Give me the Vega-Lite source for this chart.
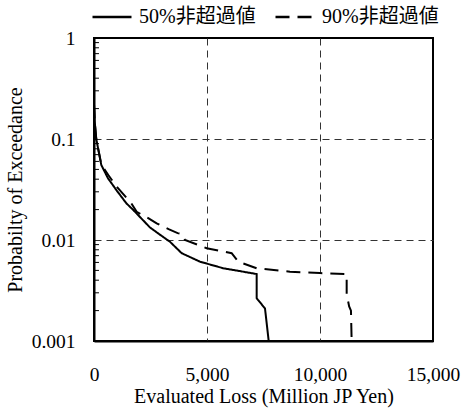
{
  "$schema": "https://vega.github.io/schema/vega-lite/v6.json",
  "width": 339,
  "height": 303,
  "autosize": {"type": "none"},
  "padding": {"left": 94, "top": 38, "right": 28, "bottom": 69},
  "background": "white",
  "config": {"view": {"stroke": "black", "strokeWidth": 2}, "font": "'Liberation Serif', serif"},
  "layer": [
    {
      "data": {
        "values": [
          {"series": "50%非超過値", "idx": 1, "loss": 0, "prob": 0.22},
          {"series": "50%非超過値", "idx": 2, "loss": 30, "prob": 0.15},
          {"series": "50%非超過値", "idx": 3, "loss": 100, "prob": 0.1},
          {"series": "50%非超過値", "idx": 4, "loss": 323, "prob": 0.0553},
          {"series": "50%非超過値", "idx": 5, "loss": 620, "prob": 0.0408},
          {"series": "50%非超過値", "idx": 6, "loss": 1000, "prob": 0.031},
          {"series": "50%非超過値", "idx": 7, "loss": 1430, "prob": 0.0231},
          {"series": "50%非超過値", "idx": 8, "loss": 1740, "prob": 0.0198},
          {"series": "50%非超過値", "idx": 9, "loss": 2100, "prob": 0.0163},
          {"series": "50%非超過値", "idx": 10, "loss": 2478, "prob": 0.0133},
          {"series": "50%非超過値", "idx": 11, "loss": 2800, "prob": 0.0118},
          {"series": "50%非超過値", "idx": 12, "loss": 3142, "prob": 0.0104},
          {"series": "50%非超過値", "idx": 13, "loss": 3363, "prob": 0.0096},
          {"series": "50%非超過値", "idx": 14, "loss": 3880, "prob": 0.0074},
          {"series": "50%非超過値", "idx": 15, "loss": 4300, "prob": 0.0067},
          {"series": "50%非超過値", "idx": 16, "loss": 4690, "prob": 0.0061},
          {"series": "50%非超過値", "idx": 17, "loss": 5723, "prob": 0.00525},
          {"series": "50%非超過値", "idx": 18, "loss": 6500, "prob": 0.0049},
          {"series": "50%非超過値", "idx": 19, "loss": 7198, "prob": 0.0046},
          {"series": "50%非超過値", "idx": 20, "loss": 7198, "prob": 0.00265},
          {"series": "50%非超過値", "idx": 21, "loss": 7566, "prob": 0.0021},
          {"series": "50%非超過値", "idx": 22, "loss": 7730, "prob": 0.001},
          {"series": "90%非超過値", "idx": 1, "loss": 0, "prob": 0.22},
          {"series": "90%非超過値", "idx": 2, "loss": 30, "prob": 0.15},
          {"series": "90%非超過値", "idx": 3, "loss": 100, "prob": 0.1},
          {"series": "90%非超過値", "idx": 4, "loss": 323, "prob": 0.056},
          {"series": "90%非超過値", "idx": 5, "loss": 633, "prob": 0.044},
          {"series": "90%非超過値", "idx": 6, "loss": 1003, "prob": 0.0337},
          {"series": "90%非超過値", "idx": 7, "loss": 1650, "prob": 0.0231},
          {"series": "90%非超過値", "idx": 8, "loss": 1888, "prob": 0.019},
          {"series": "90%非超過値", "idx": 9, "loss": 2400, "prob": 0.0165},
          {"series": "90%非超過値", "idx": 10, "loss": 2773, "prob": 0.0146},
          {"series": "90%非超過値", "idx": 11, "loss": 3300, "prob": 0.0128},
          {"series": "90%非超過値", "idx": 12, "loss": 3700, "prob": 0.0117},
          {"series": "90%非超過値", "idx": 13, "loss": 3880, "prob": 0.0115},
          {"series": "90%非超過値", "idx": 14, "loss": 4027, "prob": 0.01},
          {"series": "90%非超過値", "idx": 15, "loss": 4985, "prob": 0.0083},
          {"series": "90%非超過値", "idx": 16, "loss": 6091, "prob": 0.0074},
          {"series": "90%非超過値", "idx": 17, "loss": 6386, "prob": 0.0061},
          {"series": "90%非超過値", "idx": 18, "loss": 7198, "prob": 0.00525},
          {"series": "90%非超過値", "idx": 19, "loss": 8673, "prob": 0.00485},
          {"series": "90%非超過値", "idx": 20, "loss": 10000, "prob": 0.0047},
          {"series": "90%非超過値", "idx": 21, "loss": 11180, "prob": 0.0046},
          {"series": "90%非超過値", "idx": 22, "loss": 11180, "prob": 0.0029},
          {"series": "90%非超過値", "idx": 23, "loss": 11290, "prob": 0.0022},
          {"series": "90%非超過値", "idx": 24, "loss": 11370, "prob": 0.002},
          {"series": "90%非超過値", "idx": 25, "loss": 11400, "prob": 0.001}
        ]
      },
      "mark": {"type": "line", "color": "black", "strokeWidth": 2},
      "encoding": {
        "x": {
          "field": "loss",
          "type": "quantitative",
          "scale": {"domain": [0, 15000], "nice": false, "zero": false},
          "axis": {
            "title": "Evaluated Loss (Million JP Yen)",
            "values": [0, 5000, 10000, 15000],
            "format": ",.0f",
            "ticks": false,
            "grid": true,
            "gridColor": "#333",
            "gridWidth": 1,
            "gridDash": [7, 5],
            "gridOpacity": {"condition": {"test": "datum.value==5000||datum.value==10000", "value": 1}, "value": 0},
            "domainColor": "black",
            "domainWidth": 2,
            "labelFont": "'Liberation Serif', serif",
            "labelFontSize": 19.5,
            "labelFontWeight": "normal",
            "labelColor": "black",
            "labelPadding": 24,
            "labelFlush": false,
            "labelOverlap": false,
            "titleFont": "'Liberation Serif', serif",
            "titleFontSize": 20,
            "titleFontWeight": "normal",
            "titleColor": "black",
            "titlePadding": 3
          }
        },
        "y": {
          "field": "prob",
          "type": "quantitative",
          "scale": {"type": "log", "domain": [0.001, 1], "nice": false},
          "axis": {
            "title": "Probabilty of Exceedance",
            "values": [0.001, 0.01, 0.1, 1],
            "labelExpr": "datum.value==1?'1':datum.value==0.1?'0.1':datum.value==0.01?'0.01':'0.001'",
            "ticks": false,
            "grid": true,
            "gridColor": "#333",
            "gridWidth": 1,
            "gridDash": [7, 5],
            "gridOpacity": {"condition": {"test": "datum.value==0.1||datum.value==0.01", "value": 1}, "value": 0},
            "domainColor": "black",
            "domainWidth": 2,
            "labelFont": "'Liberation Serif', serif",
            "labelFontSize": 19.5,
            "labelFontWeight": "normal",
            "labelColor": "black",
            "labelPadding": 19,
            "labelFlush": false,
            "labelOverlap": false,
            "titleFont": "'Liberation Serif', serif",
            "titleFontSize": 20,
            "titleFontWeight": "normal",
            "titleColor": "black",
            "titlePadding": 6
          }
        },
        "strokeDash": {
          "field": "series",
          "type": "nominal",
          "scale": {"domain": ["50%非超過値", "90%非超過値"], "range": [[1, 0], [14, 8]]},
          "legend": {
            "title": null,
            "orient": "none",
            "legendX": -3,
            "legendY": -42,
            "direction": "horizontal",
            "columns": 2,
            "columnPadding": 14,
            "symbolType": "stroke",
            "symbolSize": 1521,
            "symbolStrokeWidth": 2.5,
            "symbolStrokeColor": "black",
            "labelFont": "'Liberation Serif', 'Noto Sans CJK JP', serif",
            "labelFontSize": 20,
            "labelColor": "black",
            "labelOffset": 6,
            "padding": 0
          }
        },
        "order": {"field": "idx", "type": "quantitative"}
      }
    },
    {
      "data": {
        "values": [
          {"tick": 0.002}, {"tick": 0.003}, {"tick": 0.004}, {"tick": 0.005}, {"tick": 0.006}, {"tick": 0.007}, {"tick": 0.008}, {"tick": 0.009},
          {"tick": 0.02}, {"tick": 0.03}, {"tick": 0.04}, {"tick": 0.05}, {"tick": 0.06}, {"tick": 0.07}, {"tick": 0.08}, {"tick": 0.09},
          {"tick": 0.2}, {"tick": 0.3}, {"tick": 0.4}, {"tick": 0.5}, {"tick": 0.6}, {"tick": 0.7}, {"tick": 0.8}, {"tick": 0.9}
        ]
      },
      "mark": {"type": "rule", "stroke": "black", "strokeWidth": 1, "opacity": 1},
      "encoding": {
        "y": {"field": "tick", "type": "quantitative", "title": "Probabilty of Exceedance"},
        "x": {"datum": 0, "type": "quantitative", "title": "Evaluated Loss (Million JP Yen)"},
        "x2": {"datum": 220}
      }
    }
  ]
}
